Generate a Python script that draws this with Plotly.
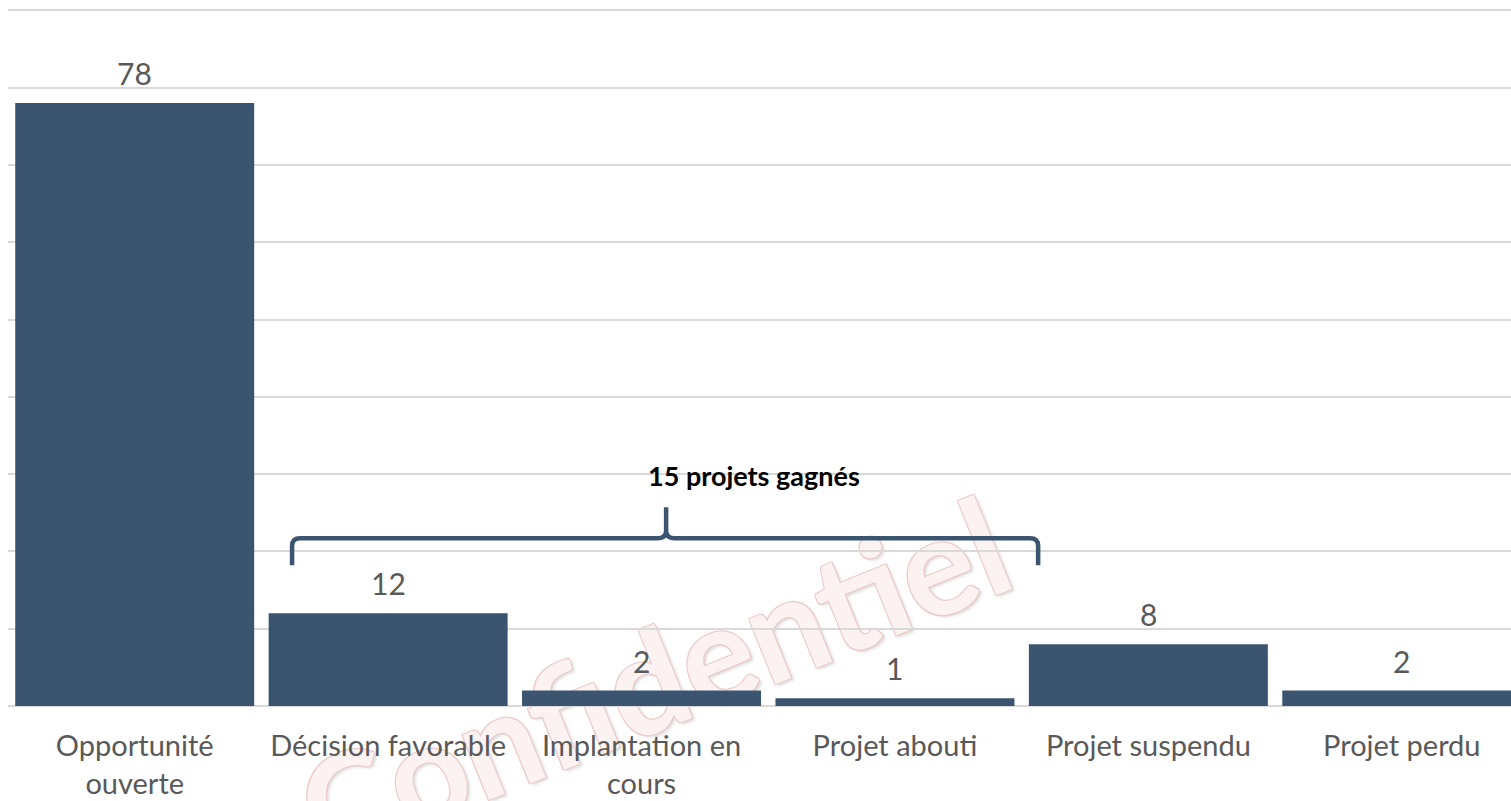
import plotly.graph_objects as go

# ---- data ----
categories = ["Opportunité<br>ouverte", "Décision favorable", "Implantation en<br>cours",
              "Projet abouti", "Projet suspendu", "Projet perdu"]
values = [78, 12, 2, 1, 8, 2]
won_indices = [1, 2, 3]          # categories grouped by the brace
watermark_text = "Confidentiel"

bar_color = "#3b5470"
label_color = "#595959"
font_family = "Lato"

x_idx = list(range(len(categories)))

fig = go.Figure(go.Bar(
    x=x_idx, y=values,
    marker=dict(color=bar_color, line=dict(width=0)),
    hoverinfo="skip",
))

# data labels
for i, v in zip(x_idx, values):
    fig.add_annotation(x=i, y=v, text=str(v), showarrow=False, yanchor="bottom",
                       yshift=10, font=dict(family=font_family, size=30, color=label_color))

# brace over the "won" categories
won_total = sum(values[i] for i in won_indices)
x0, x1, xc = 0.621, 3.565, 2.097
yb, yh, yt = 18.2, 21.7, 25.7
rx, ry = 0.032, 1.0
path = (f"M {x0},{yb} L {x0},{yh-ry} Q {x0},{yh} {x0+rx},{yh} "
        f"L {xc-rx},{yh} Q {xc},{yh} {xc},{yh+ry} L {xc},{yt} "
        f"M {xc},{yh+ry} Q {xc},{yh} {xc+rx},{yh} "
        f"L {x1-rx},{yh} Q {x1},{yh} {x1},{yh-ry} L {x1},{yb}")
fig.add_shape(type="path", path=path, xref="x", yref="y",
              line=dict(color=bar_color, width=4.5), layer="above")
fig.add_annotation(x=2.444, y=29.8, text=f"<b>{won_total} projets gagnés</b>", showarrow=False,
                   font=dict(family=font_family, size=27, color="#000000"))

# watermark (behind everything)
oc = "#ebcaca"
fig.add_shape(type="rect", xref="paper", yref="paper", x0=0.422, x1=0.435, y0=0.041, y1=0.048,
              line=dict(width=0), fillcolor="rgba(0,0,0,0)", layer="below",
              label=dict(text=watermark_text, textangle=-22, textposition="middle center",
                         font=dict(family=font_family, size=137, weight="bold", color="#fcf2f1",
                                   shadow=(f"1px 1px 0 {oc}, -1px -1px 0 {oc}, 1px -1px 0 {oc}, "
                                           f"-1px 1px 0 {oc}, 2px 3px 3px rgba(170,170,170,0.4)"))))

fig.update_layout(
    template="none",
    width=1511, height=801,
    margin=dict(l=8, r=0, t=8, b=95),
    paper_bgcolor="white", plot_bgcolor="white",
    bargap=0.057,
    showlegend=False,
    xaxis=dict(range=[-0.5, 5.431], tickvals=x_idx, ticktext=categories, showgrid=False,
               zeroline=False, showline=False, ticks="", automargin=False, ticklabelstandoff=20,
               tickfont=dict(family=font_family, size=29, color=label_color)),
    yaxis=dict(range=[0, 90.3], tickvals=list(range(0, 91, 10)), showticklabels=False, showgrid=True,
               gridcolor="#d9d9d9", gridwidth=1.5, zeroline=True, zerolinecolor="#d9d9d9",
               zerolinewidth=2, showline=False, ticks="", automargin=False),
)

fig.write_html("out.html", config={"displayModeBar": False},
               post_script="document.body.style.margin='0';")
